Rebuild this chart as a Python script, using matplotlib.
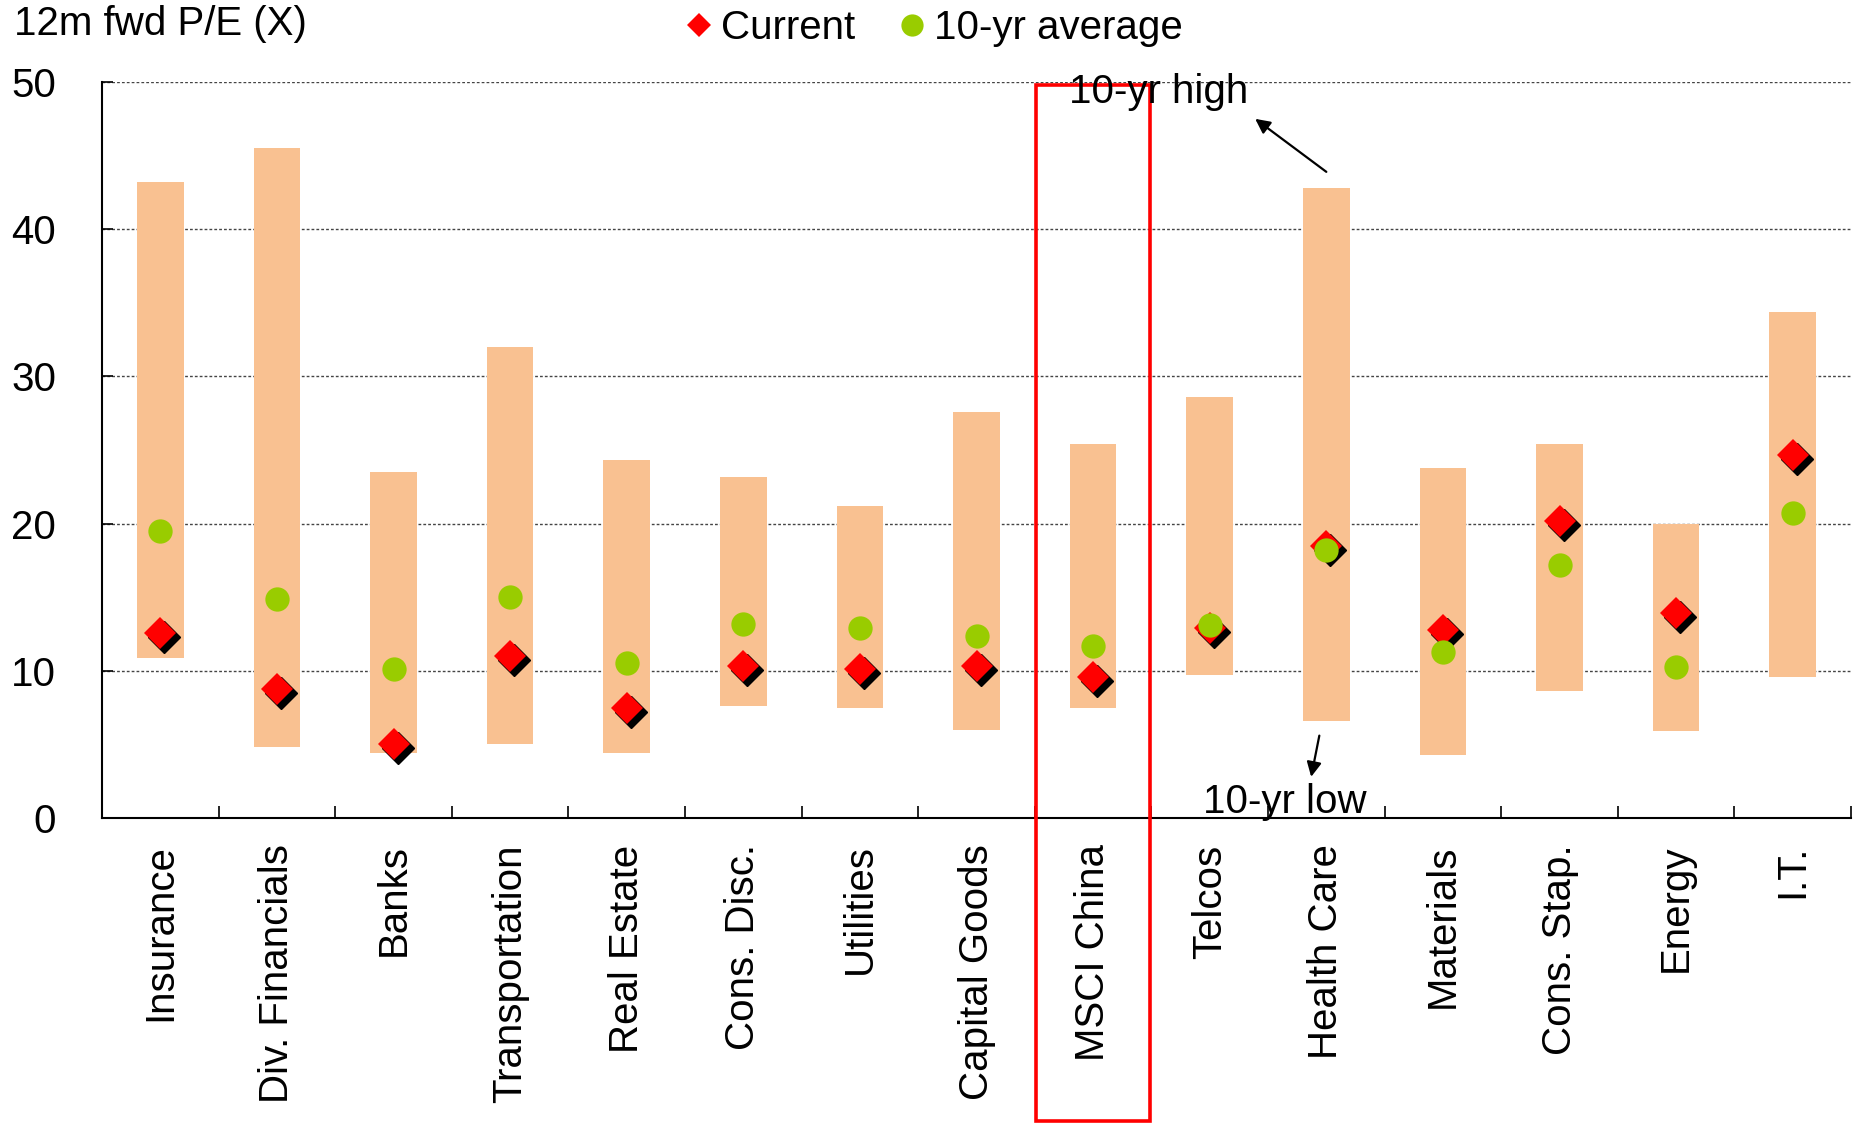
import matplotlib
matplotlib.use("Agg")
import matplotlib.pyplot as plt
from matplotlib.lines import Line2D
from matplotlib.patches import Rectangle
from matplotlib.transforms import offset_copy
import numpy as np

plt.rcParams['font.family'] = ['Liberation Sans', 'DejaVu Sans']

sectors = ["Insurance", "Div. Financials", "Banks", "Transportation", "Real Estate",
           "Cons. Disc.", "Utilities", "Capital Goods", "MSCI China", "Telcos",
           "Health Care", "Materials", "Cons. Stap.", "Energy", "I.T."]
high_10yr = [43.2, 45.5, 23.5, 32.0, 24.3, 23.2, 21.2, 27.6, 25.4, 28.6, 42.8, 23.8, 25.4, 20.0, 34.4]
low_10yr = [10.9, 4.8, 4.4, 5.0, 4.4, 7.6, 7.5, 6.0, 7.5, 9.7, 6.6, 4.3, 8.6, 5.9, 9.6]
avg_10yr = [19.5, 14.85, 10.15, 15.0, 10.5, 13.2, 12.9, 12.4, 11.7, 13.1, 18.2, 11.3, 17.2, 10.25, 20.75]
current = [12.55, 8.8, 5.0, 11.0, 7.5, 10.3, 10.1, 10.3, 9.6, 12.9, 18.45, 12.8, 20.2, 13.9, 24.65]
y_ticks = [0, 10, 20, 30, 40, 50]

FS = 29
bar_color = "#F9C191"
green = "#99CC00"
red = "#FF0000"

fig = plt.figure(figsize=(18.59, 11.24), dpi=100)
ax = fig.add_axes([0.0549, 0.2722, 0.9408, 0.6548])

x = np.arange(len(sectors))
low = np.array(low_10yr)
high = np.array(high_10yr)

# range bars (10-yr low to 10-yr high)
ax.bar(x, high - low, bottom=low, width=0.4, color=bar_color, zorder=2)

# current values: diamond with a dark drop shadow
shadow = offset_copy(ax.transData, fig=fig, x=4, y=-4, units='dots')
ax.plot(x, current, linestyle='none', marker='D', markersize=16.5,
        color='black', transform=shadow, zorder=3)
ax.plot(x, current, linestyle='none', marker='D', markersize=16.5,
        color=red, markeredgewidth=0, zorder=4)
# 10-yr average
ax.plot(x, avg_10yr, linestyle='none', marker='o', markersize=17.5,
        color=green, markeredgewidth=0, zorder=5)

ax.set_xlim(-0.5, len(sectors) - 0.5)
ax.set_ylim(0, 50)
ax.set_yticks(y_ticks)
ax.set_yticklabels([str(v) for v in y_ticks], fontsize=FS)
ax.set_xticks(x)
ax.set_xticklabels(sectors, rotation=90, fontsize=FS, ha='center', va='top')
ax.set_xticks(np.arange(len(sectors) + 1) - 0.5, minor=True)
ax.tick_params(axis='x', which='major', length=0, pad=19)
ax.tick_params(axis='x', which='minor', direction='in', length=9, width=1.2)
ax.tick_params(axis='y', direction='in', length=8, width=1.2, pad=33)

for s in ['top', 'right']:
    ax.spines[s].set_visible(False)
for s in ['left', 'bottom']:
    ax.spines[s].set_linewidth(1.5)
    ax.spines[s].set_color('black')

ax.yaxis.grid(True, linestyle=(0, (2, 1.5)), color='#444444', linewidth=1.0, zorder=0)
ax.set_axisbelow(True)

# highlight box around the market aggregate
box = Rectangle((7.51, -20.6), 0.98, 70.4, fill=False, edgecolor=red,
                linewidth=2.6, clip_on=False, zorder=6)
ax.add_patch(box)

# annotations: labels with pointer arrows
arrow_style = dict(arrowstyle='-|>', color='black', lw=1.6, mutation_scale=22,
                   shrinkA=0, shrinkB=0)
ax.annotate("", xy=(9.39, 47.5), xytext=(10.0, 43.9), arrowprops=arrow_style, zorder=7)
ax.text(8.56, 49.35, "10-yr high", fontsize=FS, ha='center', va='center', zorder=7)
ax.annotate("", xy=(9.87, 2.8), xytext=(9.94, 5.6), arrowprops=arrow_style, zorder=7)
ax.text(9.64, 1.1, "10-yr low", fontsize=FS, ha='center', va='center', zorder=7)

fig.text(0.0075, 0.979, "12m fwd P/E (X)", fontsize=FS, ha='left', va='center')

handles = [Line2D([], [], linestyle='none', marker='D', markersize=12, color=red, markeredgewidth=0),
           Line2D([], [], linestyle='none', marker='o', markersize=16, color=green, markeredgewidth=0)]
fig.legend(handles, ["Current", "10-yr average"], loc='center', bbox_to_anchor=(0.503, 0.975),
           ncol=2, frameon=False, fontsize=FS, handlelength=0.6, handletextpad=0.25,
           columnspacing=1.1, borderpad=0)

fig.savefig("out.png", dpi=100)
